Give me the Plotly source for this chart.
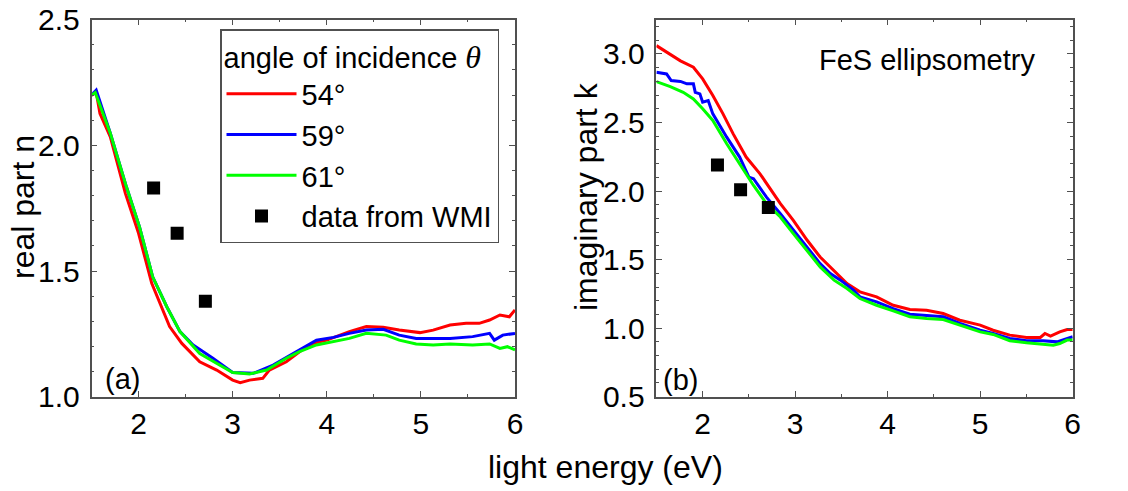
import plotly.graph_objects as go

# ---- data: real part n ----
n54_x = [1.50, 1.55, 1.59, 1.70, 1.86, 2.00, 2.14, 2.33, 2.46, 2.65, 2.83, 3.00, 3.08, 3.18, 3.32, 3.39, 3.57, 3.71, 3.85, 4.00, 4.24, 4.42, 4.60, 4.77, 4.99, 5.13, 5.31, 5.48, 5.62, 5.73, 5.84, 5.94, 6.00]
n54_y = [2.200, 2.210, 2.127, 2.034, 1.809, 1.650, 1.451, 1.279, 1.212, 1.139, 1.106, 1.066, 1.056, 1.066, 1.073, 1.106, 1.139, 1.179, 1.212, 1.225, 1.259, 1.279, 1.276, 1.265, 1.255, 1.265, 1.285, 1.292, 1.292, 1.305, 1.325, 1.318, 1.345]

n59_x = [1.50, 1.55, 1.70, 1.87, 2.01, 2.15, 2.30, 2.44, 2.58, 2.79, 3.00, 3.22, 3.43, 3.64, 3.89, 4.07, 4.24, 4.42, 4.60, 4.77, 4.95, 5.31, 5.55, 5.73, 5.78, 5.87, 6.00]
n59_y = [2.200, 2.220, 2.048, 1.836, 1.676, 1.477, 1.358, 1.259, 1.206, 1.153, 1.096, 1.093, 1.126, 1.172, 1.225, 1.236, 1.252, 1.265, 1.268, 1.245, 1.232, 1.232, 1.239, 1.252, 1.225, 1.245, 1.252]

n61_x = [1.50, 1.54, 1.70, 1.87, 2.01, 2.15, 2.30, 2.44, 2.65, 2.83, 3.00, 3.18, 3.36, 3.57, 3.71, 3.89, 4.07, 4.24, 4.42, 4.63, 4.77, 4.95, 5.13, 5.31, 5.55, 5.73, 5.84, 5.92, 6.00]
n61_y = [2.200, 2.210, 2.048, 1.836, 1.676, 1.477, 1.358, 1.259, 1.172, 1.133, 1.096, 1.090, 1.106, 1.153, 1.179, 1.206, 1.219, 1.232, 1.252, 1.245, 1.225, 1.210, 1.206, 1.210, 1.206, 1.210, 1.192, 1.199, 1.186]

# ---- data: imaginary part k ----
k54_x = [1.50, 1.65, 1.76, 1.90, 2.00, 2.11, 2.22, 2.33, 2.47, 2.62, 2.76, 2.84, 2.98, 3.13, 3.27, 3.42, 3.56, 3.70, 3.88, 4.06, 4.24, 4.42, 4.60, 4.78, 5.00, 5.14, 5.32, 5.50, 5.65, 5.70, 5.76, 5.86, 5.94, 6.00]
k54_y = [3.061, 3.000, 2.950, 2.903, 2.818, 2.697, 2.563, 2.417, 2.248, 2.126, 1.981, 1.908, 1.786, 1.641, 1.519, 1.422, 1.325, 1.265, 1.228, 1.167, 1.136, 1.131, 1.107, 1.058, 1.022, 0.985, 0.949, 0.932, 0.932, 0.961, 0.942, 0.973, 0.990, 0.990]

k59_x = [1.50, 1.61, 1.66, 1.76, 1.83, 1.90, 1.92, 1.97, 2.00, 2.06, 2.11, 2.26, 2.40, 2.50, 2.55, 2.69, 2.84, 2.98, 3.13, 3.27, 3.38, 3.49, 3.63, 3.70, 3.88, 4.06, 4.24, 4.42, 4.60, 4.78, 5.00, 5.14, 5.32, 5.50, 5.68, 5.83, 5.90, 6.00]
k59_y = [2.867, 2.854, 2.806, 2.800, 2.782, 2.782, 2.720, 2.709, 2.648, 2.660, 2.563, 2.393, 2.248, 2.102, 2.090, 1.956, 1.835, 1.714, 1.592, 1.471, 1.398, 1.350, 1.277, 1.228, 1.192, 1.143, 1.102, 1.095, 1.083, 1.034, 0.985, 0.961, 0.925, 0.908, 0.908, 0.900, 0.917, 0.937]

k61_x = [1.50, 1.65, 1.79, 1.90, 2.00, 2.11, 2.26, 2.40, 2.55, 2.69, 2.84, 2.98, 3.13, 3.27, 3.42, 3.56, 3.70, 3.88, 4.06, 4.24, 4.42, 4.60, 4.78, 5.00, 5.14, 5.32, 5.50, 5.68, 5.79, 5.86, 5.94, 6.00]
k61_y = [2.798, 2.762, 2.720, 2.672, 2.600, 2.515, 2.345, 2.199, 2.041, 1.908, 1.811, 1.689, 1.568, 1.447, 1.350, 1.289, 1.216, 1.167, 1.126, 1.083, 1.070, 1.063, 1.022, 0.973, 0.954, 0.908, 0.893, 0.881, 0.876, 0.888, 0.913, 0.913]

# ---- WMI reference data ----
wmi_x = [2.16, 2.41, 2.71]
wmi_n = [1.83, 1.65, 1.38]
wmi_k = [2.19, 2.01, 1.88]

angle_names = ["54°", "59°", "61°"]
colors = ["#ff0000", "#0000ff", "#00ff00"]

FONT = "Liberation Sans, Arial, sans-serif"
FS = 29
FTICK = 30
FT = 32

fig = go.Figure()
n_sets = [(n54_x, n54_y), (n59_x, n59_y), (n61_x, n61_y)]
k_sets = [(k54_x, k54_y), (k59_x, k59_y), (k61_x, k61_y)]
for i, (name, col) in enumerate(zip(angle_names, colors)):
    fig.add_trace(go.Scatter(x=n_sets[i][0], y=n_sets[i][1], mode="lines", name=name,
                             line=dict(color=col, width=3), xaxis="x", yaxis="y",
                             legendgroup=name))
for i, (name, col) in enumerate(zip(angle_names, colors)):
    fig.add_trace(go.Scatter(x=k_sets[i][0], y=k_sets[i][1], mode="lines", name=name,
                             line=dict(color=col, width=3), xaxis="x2", yaxis="y2",
                             legendgroup=name, showlegend=False))
fig.add_trace(go.Scatter(x=wmi_x, y=wmi_n, mode="markers", name="data from WMI",
                         marker=dict(symbol="square", size=13, color="black"),
                         xaxis="x", yaxis="y", legendgroup="wmi"))
fig.add_trace(go.Scatter(x=wmi_x, y=wmi_k, mode="markers", name="data from WMI",
                         marker=dict(symbol="square", size=13, color="black"),
                         xaxis="x2", yaxis="y2", legendgroup="wmi", showlegend=False))

axcol = "#505050"
def xax(dom, anchor):
    return dict(domain=dom, anchor=anchor, range=[1.5, 6], dtick=1, tick0=0,
                showline=True, mirror="ticks", linecolor=axcol, linewidth=1.5,
                ticks="inside", ticklen=6, tickwidth=1.2, tickcolor=axcol,
                minor=dict(ticks="inside", ticklen=3, dtick=0.5, tick0=0, tickcolor=axcol, tickwidth=1.2),
                showgrid=False, zeroline=False, automargin=False,
                tickfont=dict(family=FONT, size=FTICK, color="black"), ticklabelstandoff=0)

def yax(dom, anchor, rng):
    return dict(domain=dom, anchor=anchor, range=rng, dtick=0.5, tick0=0, tickformat=".1f",
                showline=True, mirror="ticks", linecolor=axcol, linewidth=1.5,
                ticks="inside", ticklen=6, tickwidth=1.2, tickcolor=axcol,
                minor=dict(ticks="inside", ticklen=3, dtick=0.1, tick0=0, tickcolor=axcol, tickwidth=1.2),
                showgrid=False, zeroline=False, automargin=False,
                tickfont=dict(family=FONT, size=FTICK, color="black"), ticklabelstandoff=4)

ydom = [94.3 / 491, 471.3 / 491]
fig.update_layout(
    width=1128, height=491,
    margin=dict(l=0, r=0, t=0, b=0, pad=0, autoexpand=False),
    paper_bgcolor="white", plot_bgcolor="white",
    font=dict(family=FONT, size=FS, color="black"),
    xaxis=xax([91.5 / 1128, 515 / 1128], "y"),
    yaxis=yax(ydom, "x", [1.0, 2.5]),
    xaxis2=xax([656.4 / 1128, 1072.7 / 1128], "y2"),
    yaxis2=yax(ydom, "x2", [0.5, 3.25]),
    showlegend=True,
    legend=dict(x=220 / 1128, y=1 - 29.3 / 491, xanchor="left", yanchor="top",
                bordercolor=axcol, borderwidth=1.5, bgcolor="white",
                font=dict(family=FONT, size=FS, color="black"),
                title=dict(text="angle of incidence <span style=\"font-family:'Liberation Serif', serif; font-style:italic; font-size:32px\">θ</span>",
                           font=dict(family=FONT, size=FS, color="black")),
                tracegroupgap=0, itemwidth=70),
    annotations=[
        dict(text="light energy (eV)", x=605 / 1128, y=1 - 467 / 491, xref="paper", yref="paper",
             showarrow=False, font=dict(size=FT), xanchor="center", yanchor="middle"),
        dict(text="real part n", x=23 / 1128, y=1 - 207 / 491, xref="paper", yref="paper",
             showarrow=False, textangle=-90, font=dict(size=FT), xanchor="center", yanchor="middle"),
        dict(text="imaginary part k", x=586 / 1128, y=1 - 196 / 491, xref="paper", yref="paper",
             showarrow=False, textangle=-90, font=dict(size=FT), xanchor="center", yanchor="middle"),
        dict(text="(a)", x=122 / 1128, y=1 - 379 / 491, xref="paper", yref="paper",
             showarrow=False, font=dict(size=FS), xanchor="center", yanchor="middle"),
        dict(text="(b)", x=680 / 1128, y=1 - 380 / 491, xref="paper", yref="paper",
             showarrow=False, font=dict(size=FS), xanchor="center", yanchor="middle"),
        dict(text="FeS ellipsometry", x=927 / 1128, y=1 - 60 / 491, xref="paper", yref="paper",
             showarrow=False, font=dict(size=FS), xanchor="center", yanchor="middle"),
    ],
)

fig.write_html("out.html")
